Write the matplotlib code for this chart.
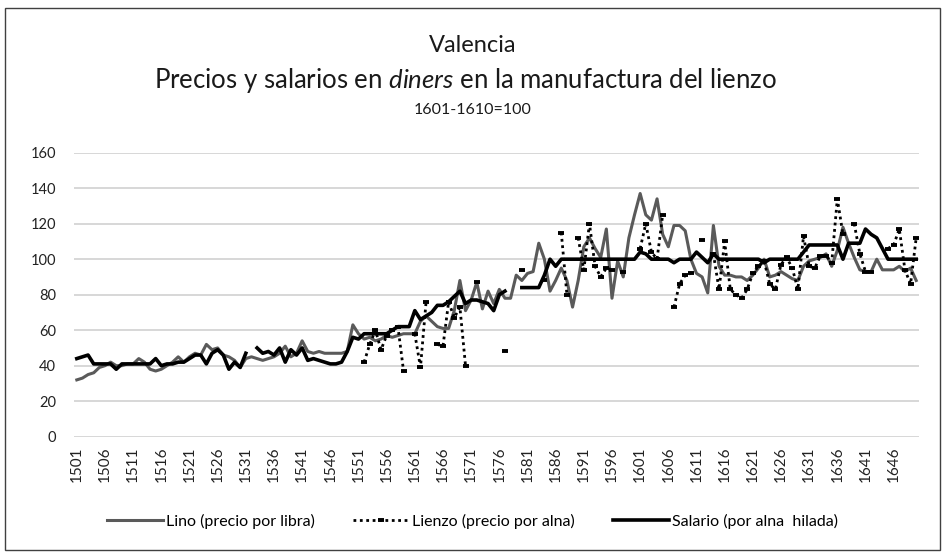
import matplotlib
matplotlib.use("Agg")
import matplotlib.pyplot as plt
from matplotlib.patches import Rectangle
import numpy as np

plt.rcParams['font.family'] = ['Lato', 'DejaVu Sans']
plt.rcParams['mathtext.fontset'] = 'custom'
plt.rcParams['mathtext.rm'] = 'Lato'
plt.rcParams['mathtext.it'] = 'Lato:italic'

years = list(range(1501, 1651))

# Lino (precio por libra)
lino = [
    32, 33, 35, 36, 39, 40, 42, 40, 40, 41,
    41, 44, 42, 38, 37, 38, 40, 42, 45, 42,
    45, 47, 46, 52, 49, 50, 46, 45, 43, 39,
    44, 45, 44, 43, 44, 45, 47, 51, 45, 47,
    54, 48, 47, 48, 47, 47, 47, 47, 48, 63,
    58, 55, 56, 54, 55, 57, 56, 57, 58, 58,
    58, 65, 68, 65, 62, 61, 61, 71, 88, 71,
    77, 87, 72, 82, 75, 83, 78, 78, 91, 88,
    92, 93, 109, 100, 82, 88, 95, 88, 73, 88,
    107, 112, 106, 101, 117, 78, 99, 90, 112, 125,
    137, 125, 122, 134, 114, 107, 119, 119, 116, 100,
    92, 90, 81, 119, 96, 91, 91, 90, 90, 88,
    91, 95, 100, 90, 91, 93, 91, 89, 88, 96,
    99, 100, 101, 103, 96, 105, 118, 109, 101, 94,
    93, 93, 100, 94, 94, 94, 96, 93, 95, 88,
]

# Lienzo (precio por alna)
lienzo = [None] * 51 + [
    42, 52, 60, 49, 57, 60, 62, 37, None,
    58, 39, 76, None, 52, 51, 76, 67, 73, 40,
    None, 87, None, None, None, None, 48, None, None, 94,
    None, None, None, 88, None, None, 115, 80, None, 112,
    94, 120, 96, 90, 95, 94, None, 93, None, None,
    106, 120, 104, 100, 125, None, 73, 86, 91, 92,
    None, 111, None, 103, 83, 110, 83, 80, 78, 83,
    92, 96, 99, 86, 83, 97, 101, 95, 83, 113,
    96, 95, 102, 102, 98, 134, 114, None, 120, 103,
    93, 93, None, None, 106, 108, 117, 94, 86, 112,
]

# Salario (por alna hilada)
salario = [
    44, 45, 46, 41, 41, 41, 41, 38, 41, 41,
    41, 41, 41, 41, 44, 40, 41, 41, 42, 42,
    44, 46, 46, 41, 47, 49, 46, 38, 42, 39,
    47, None, 50, 47, 48, 46, 50, 42, 49, 46,
    50, 43, 44, 43, 42, 41, 41, 42, 48, 56,
    55, 58, 58, 58, 58, 58, 60, 62, 62, 62,
    71, 66, 68, 70, 74, 74, 76, 79, 82, 75,
    77, 77, 76, 75, 71, 80, 82, None, None, 84,
    84, 84, 84, 91, 100, 96, 100, 100, 100, 100,
    100, 100, 100, 100, 100, 100, 100, 100, 100, 100,
    104, 103, 100, 100, 100, 100, 98, 100, 100, 100,
    104, 101, 98, 103, 100, 100, 100, 100, 100, 100,
    100, 100, 98, 100, 100, 100, 100, 100, 100, 104,
    108, 108, 108, 108, 108, 108, 100, 109, 109, 109,
    117, 114, 112, 106, 100, 100, 100, 100, 100, 100,
]

tick_years = list(range(1501, 1647, 5))


def arr(v):
    return np.array([np.nan if x is None else x for x in v], dtype=float)


fig = plt.figure(figsize=(9.45, 5.52), dpi=100)
ax = fig.add_axes([0.0783, 0.2089, 0.8942, 0.5145])

ax.plot(years, arr(lino), color='#5a5a5a', lw=2.2, solid_joinstyle='round',
        label='Lino (precio por libra)', zorder=3)
ax.plot(years, arr(lienzo), color='black', lw=2.0, linestyle=(0, (1, 1.3)),
        marker='_', markersize=4.5, markeredgewidth=2.8,
        label='Lienzo (precio por alna)', zorder=4)
ax.plot(years, arr(salario), color='black', lw=2.6, solid_joinstyle='round',
        label='Salario (por alna  hilada)', zorder=5)

ax.set_xlim(1500.5, 1650.5)
ax.set_ylim(0, 160)
ax.set_yticks(range(0, 161, 20))
ax.set_xticks(tick_years)
ax.set_xticklabels([str(y) for y in tick_years], rotation=90)
ax.tick_params(axis='both', length=0, colors='#222222')
ax.tick_params(axis='y', pad=13, labelsize=10.5)
ax.tick_params(axis='x', pad=7, labelsize=11)
ax.grid(axis='y', color='#d4d4d4', lw=1.3)
ax.set_axisbelow(True)
for s in ax.spines.values():
    s.set_visible(False)

fig.text(0.5, 0.918, 'Valencia', ha='center', va='center', fontsize=17, color='#1a1a1a')
fig.text(0.493, 0.855, r'Precios y salarios en $\mathit{diners}$ en la manufactura del lienzo',
         ha='center', va='center', fontsize=18.5, color='#1a1a1a')
fig.text(0.5, 0.801, '1601-1610=100', ha='center', va='center', fontsize=11.5, color='#1a1a1a')

fig.legend(loc='center', bbox_to_anchor=(0.5, 0.056), ncol=3, frameon=False,
           fontsize=11.5, handlelength=3.5, handletextpad=0.2, columnspacing=2.4)

fig.patches.append(Rectangle((0.005, 0.004), 0.99, 0.982, transform=fig.transFigure,
                             fill=False, edgecolor='#404040', lw=1.0))

fig.savefig('out.png', dpi=100)
